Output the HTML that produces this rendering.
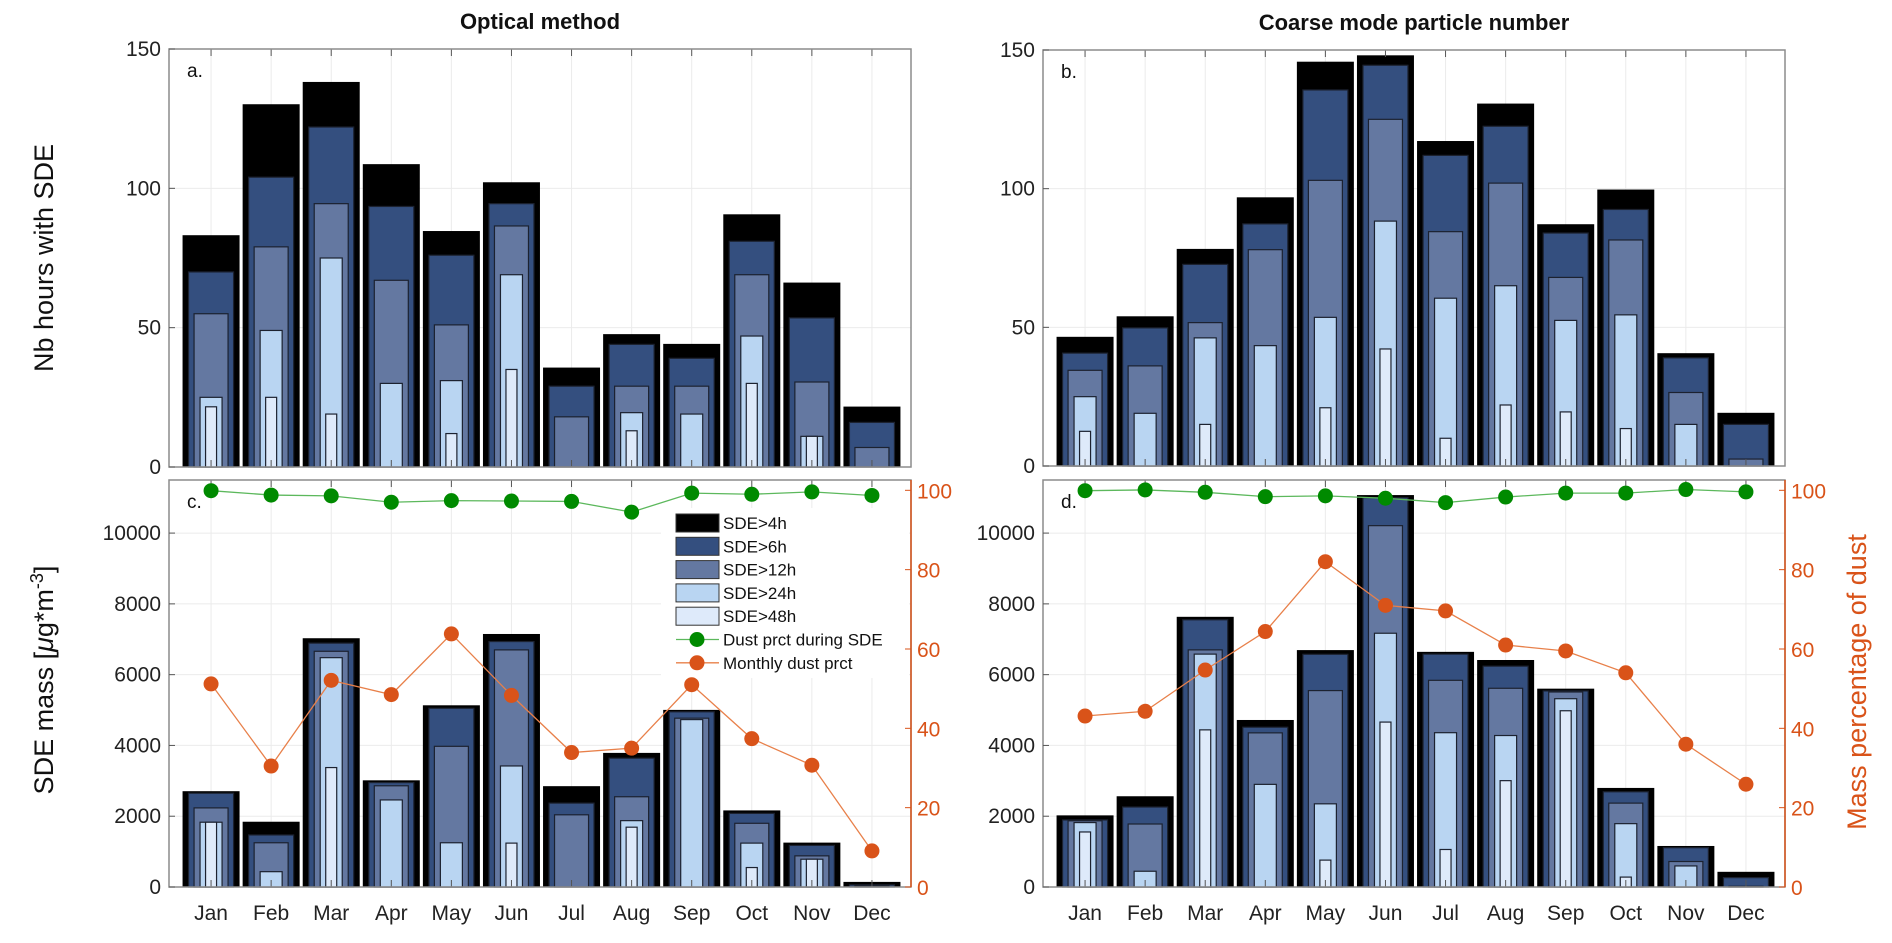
<!DOCTYPE html>
<html><head><meta charset="utf-8"><style>
body{margin:0;background:#fff;}
svg{display:block;font-family:"Liberation Sans",Arial,sans-serif;}
</style></head><body>
<svg id="fig" width="1892" height="943" viewBox="0 0 1892 943" xmlns="http://www.w3.org/2000/svg"></svg>
<script>
const months=["Jan","Feb","Mar","Apr","May","Jun","Jul","Aug","Sep","Oct","Nov","Dec"];
// Panel a: hours (optical method)
const a4=[83,130,138,108.5,84.5,102,35.5,47.5,44,90.5,66,21.5];
const a6=[70,104,122,93.5,76,94.5,29,44,39,81,53.5,16];
const a12=[55,79,94.5,67,51,86.5,18,29,29,69,30.5,7];
const a24=[25,49,75,30,31,69,0,19.5,19,47,11,0];
const a48=[21.6,25,19,0,12,35,0,13,0,30,11,0];
// Panel b: hours (coarse mode)
const b4=[46.4,53.8,78.1,96.7,145.6,147.9,117,130.5,87,99.5,40.5,19];
const b6=[40.7,49.8,72.7,87.3,135.6,144.5,112,122.5,84,92.5,39,15];
const b12=[34.5,36.1,51.7,78,103,125,84.5,102,68,81.5,26.5,2.5];
const b24=[25,19,46.2,43.4,53.6,88.3,60.5,65,52.5,54.5,15,0];
const b48=[12.5,0,15,0,21,42.2,10,22,19.5,13.5,0,0];
// Panel c: mass (optical)
const c4=[2693,1830,7015,3000,5120,7135,2835,3775,4990,2150,1240,130];
const c6=[2650,1470,6890,2950,5050,6935,2370,3640,4950,2080,1175,60];
const c12=[2235,1250,6660,2860,3975,6700,2040,2550,4770,1800,880,30];
const c24=[1830,433,6480,2460,1250,3420,0,1875,4730,1240,785,0];
const c48=[1830,0,3375,0,0,1240,0,1690,0,550,785,0];
const cDustSDE=[99.9,98.8,98.6,97.0,97.4,97.3,97.2,94.5,99.3,99.0,99.6,98.7];
const cDustMonth=[51.2,30.5,52.1,48.5,63.8,48.3,33.9,35.0,51.0,37.4,30.7,9.1];
// Panel d: mass (coarse mode)
const d4=[2010,2550,7620,4705,6680,11060,6630,6400,5590,2785,1145,415];
const d6=[1895,2260,7550,4515,6575,11000,6580,6240,5540,2690,1110,265];
const d12=[1870,1780,6700,4355,5550,10210,5840,5615,5510,2370,720,20];
const d24=[1820,445,6580,2900,2350,7170,4360,4280,5320,1790,595,0];
const d48=[1555,0,4440,0,760,4660,1060,3005,4980,280,0,0];
const dDustSDE=[99.9,100.1,99.5,98.4,98.6,98.0,96.9,98.3,99.3,99.3,100.2,99.6];
const dDustMonth=[43.1,44.3,54.7,64.4,82.0,71.0,69.6,61.0,59.5,54.0,36.0,25.9];
const hourTicks=[0,50,100,150];
const massTicks=[0,2000,4000,6000,8000,10000];
const pctTicks=[0,20,40,60,80,100];

const NS="http://www.w3.org/2000/svg";
const svg=document.getElementById('fig');
function el(tag,attrs,parent){const e=document.createElementNS(NS,tag);for(const k in attrs)e.setAttribute(k,attrs[k]);(parent||svg).appendChild(e);return e;}
const fills=["#000000","#344f7f","#6478a1","#b9d5f2","#deeafa"];
const widths=[56,45,34,22,11];
const levelNames=["4h","6h","12h","24h","48h"];
const ORANGE="#d95319";

function panel(id,L,R,T,B,ymax,series,tickVals,label,title){
  const g=el('g',{});
  
  
  const step=(R-L)/12.35;
  const x=i=>L+0.7*step+i*step;
  const y=v=>B-(v/ymax)*(B-T);
  tickVals.forEach(v=>{if(v>0){const ln=el('line',{x1:L,x2:R,y1:y(v),y2:y(v),stroke:"#ebebeb","stroke-width":1},g);}});
  months.forEach((m,i)=>{const ln=el('line',{x1:x(i),x2:x(i),y1:T,y2:B,stroke:"#ebebeb","stroke-width":1},g);});
  months.forEach((m,i)=>{
    series.forEach((arr,k)=>{
      const v=arr[i]; if(!(v>0))return;
      const w=widths[k];
      const r=el('rect',{x:x(i)-w/2,y:y(v),width:w,height:B-y(v),fill:fills[k],stroke:k==0?"#000":"#1c2230","stroke-width":k==0?1:1.2},g);
      
      
    });
    const t=el('line',{x1:x(i),x2:x(i),y1:B,y2:B-7,stroke:"#555","stroke-width":1},g);
    
    const t2=el('line',{x1:x(i),x2:x(i),y1:T,y2:T+7,stroke:"#555","stroke-width":1},g);
    
  });
  const box=el('rect',{x:L,y:T,width:R-L,height:B-T,fill:"none",stroke:"#8c8c8c","stroke-width":1.5},g);
  
  tickVals.forEach(v=>{
    const t=el('text',{x:L-8,y:y(v)+7,"text-anchor":"end","font-size":21,fill:"#222"},g);
    t.textContent=v;
    
    const tk=el('line',{x1:L,x2:L+6,y1:y(v),y2:y(v),stroke:"#555"},g);
    
  });
  const lb=el('text',{x:L+18,y:T+28,"font-size":19,fill:"#111"},g);
  lb.textContent=label;
  if(title){const tt=el('text',{x:(L+R)/2,y:T-20,"text-anchor":"middle","font-size":22,"font-weight":"bold",fill:"#111"},g);tt.textContent=title;}
  return {x,g};
}

function pctAxis(L,R,T,B,pmax,sde,mon){
  const step=(R-L)/12.35;
  const x=i=>L+0.7*step+i*step;
  const yp=v=>B-(v/pmax)*(B-T);
  const ax=el('line',{x1:R,x2:R,y1:T,y2:B,stroke:ORANGE,"stroke-width":1.5});
  
  pctTicks.forEach(v=>{
    const tk=el('line',{x1:R-6,x2:R,y1:yp(v),y2:yp(v),stroke:ORANGE});
    
    const t=el('text',{x:R+6,y:yp(v)+8,"font-size":21,fill:ORANGE});
    t.textContent=v;
  });
  [[sde,"#5cb85c","#008a00","dust-prct-sde"],[mon,"#e8804a",ORANGE,"monthly-dust-prct"]].forEach(([arr,lc,mc,nm])=>{
    const pts=arr.map((v,i)=>x(i)+","+yp(v)).join(" ");
    const pl=el('polyline',{points:pts,fill:"none",stroke:lc,"stroke-width":1.3});
    
    arr.forEach((v,i)=>{
      const c=el('ellipse',{cx:x(i),cy:yp(v),rx:7.5,ry:7.5,fill:mc});
      
    });
  });
  months.forEach((m,i)=>{
    const t=el('text',{x:x(i),y:920,"text-anchor":"middle","font-size":21,fill:"#222"});
    t.textContent=m;
  });
}

panel('a',169,911,49,467,150,[a4,a6,a12,a24,a48],hourTicks,'a.','Optical method');
panel('b',1043,1785,50,466,150,[b4,b6,b12,b24,b48],hourTicks,'b.','Coarse mode particle number');
panel('c',169,911,480,887,11500,[c4,c6,c12,c24,c48],massTicks,'c.',null);
panel('d',1043,1785,480,887,11500,[d4,d6,d12,d24,d48],massTicks,'d.',null);

const lg=el('g',{});

el('rect',{x:661,y:508,width:248,height:170,fill:"#fff"},lg);
const legNames=["SDE>4h","SDE>6h","SDE>12h","SDE>24h","SDE>48h"];
legNames.forEach((n,k)=>{
  const yy=514+k*23.3;
  const r=el('rect',{x:676,y:yy,width:43,height:18,fill:fills[k],stroke:"#333","stroke-width":1},lg);
  
  const t=el('text',{x:723,y:yy+15,"font-size":17,fill:"#111"},lg);
  t.textContent=n;
});
[["Dust prct during SDE","#5cb85c","#008a00"],["Monthly dust prct","#e8804a",ORANGE]].forEach(([n,lc,mc],k)=>{
  const yy=514+5*23.3+k*23.3+9;
  el('line',{x1:676,x2:719,y1:yy,y2:yy,stroke:lc,"stroke-width":1.3},lg);
  const c=el('ellipse',{cx:697,cy:yy,rx:7.5,ry:7.5,fill:mc},lg);
  
  const t=el('text',{x:723,y:yy+6,"font-size":17,fill:"#111"},lg);
  t.textContent=n;
});

pctAxis(169,911,480,887,102.6,cDustSDE,cDustMonth);
pctAxis(1043,1785,480,887,102.6,dDustSDE,dDustMonth);

function vtitle(txt,x,y,color,name,html){
  const t=el('text',{x:x,y:y,transform:`rotate(-90 ${x} ${y})`,"text-anchor":"middle","font-size":27,fill:color});
  if(html){t.innerHTML=html;}else t.textContent=txt;
  
}
vtitle("Nb hours with SDE",53,258,"#111","y-axis-title-hours");
vtitle("",53,680,"#111","y-axis-title-mass",'SDE mass [<tspan font-style="italic">μ</tspan>g*m<tspan baseline-shift="super" font-size="18">-3</tspan>]');
vtitle("Mass percentage of dust",1866,682,ORANGE,"y-axis-title-percentage");
</script>
</body></html>
